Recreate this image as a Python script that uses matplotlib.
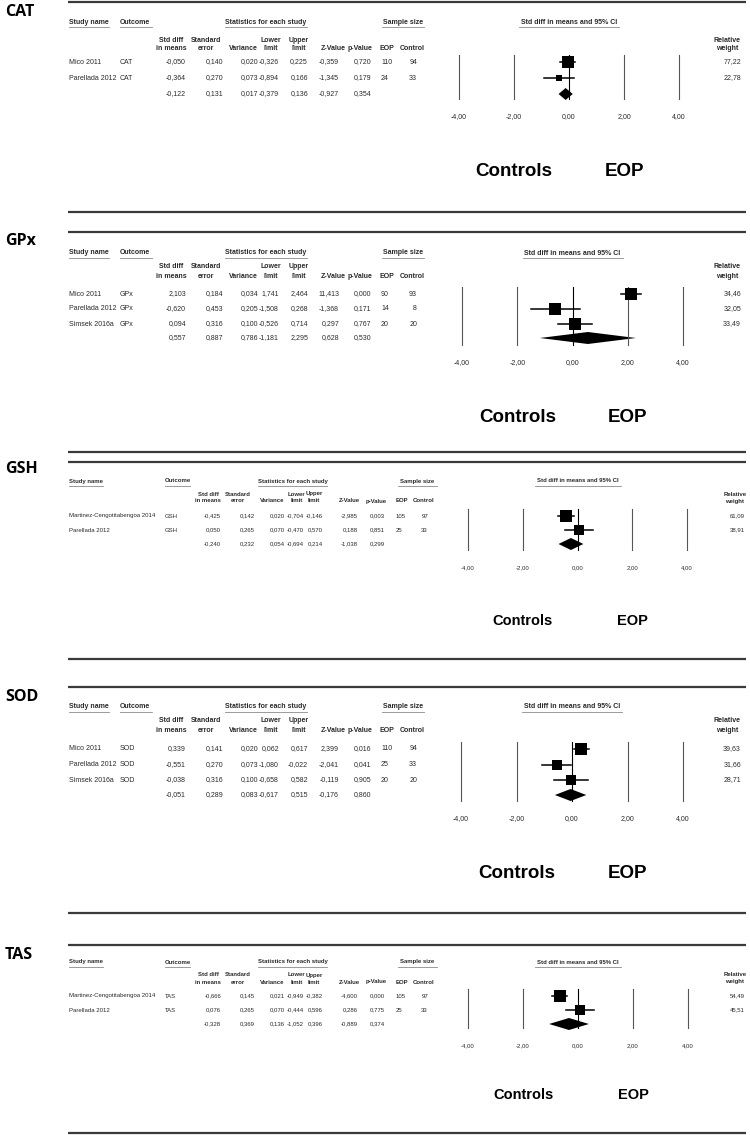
import numpy as np
import matplotlib
matplotlib.use("Agg")
import matplotlib.pyplot as plt

# ---------------- data ----------------
CAT_studies = ["Mico 2011", "Parellada 2012"]
CAT_smd = [-0.050, -0.364]
CAT_se = [0.140, 0.270]
CAT_var = [0.020, 0.073]
CAT_lo = [-0.326, -0.894]
CAT_hi = [0.225, 0.166]
CAT_z = [-0.359, -1.345]
CAT_p = [0.720, 0.179]
CAT_eop = [110, 24]
CAT_ctrl = [94, 33]
CAT_w = [77.22, 22.78]
CAT_pooled = [-0.122, 0.131, 0.017, -0.379, 0.136, -0.927, 0.354]

GPX_studies = ["Mico 2011", "Parellada 2012", "Simsek 2016a"]
GPX_smd = [2.103, -0.620, 0.094]
GPX_se = [0.184, 0.453, 0.316]
GPX_var = [0.034, 0.205, 0.100]
GPX_lo = [1.741, -1.508, -0.526]
GPX_hi = [2.464, 0.268, 0.714]
GPX_z = [11.413, -1.368, 0.297]
GPX_p = [0.000, 0.171, 0.767]
GPX_eop = [90, 14, 20]
GPX_ctrl = [93, 8, 20]
GPX_w = [34.46, 32.05, 33.49]
GPX_pooled = [0.557, 0.887, 0.786, -1.181, 2.295, 0.628, 0.530]

GSH_studies = ["Martinez-Cengotitabengoa 2014", "Parellada 2012"]
GSH_smd = [-0.425, 0.050]
GSH_se = [0.142, 0.265]
GSH_var = [0.020, 0.070]
GSH_lo = [-0.704, -0.470]
GSH_hi = [-0.146, 0.570]
GSH_z = [-2.985, 0.188]
GSH_p = [0.003, 0.851]
GSH_eop = [105, 25]
GSH_ctrl = [97, 33]
GSH_w = [61.09, 38.91]
GSH_pooled = [-0.240, 0.232, 0.054, -0.694, 0.214, -1.038, 0.299]

SOD_studies = ["Mico 2011", "Parellada 2012", "Simsek 2016a"]
SOD_smd = [0.339, -0.551, -0.038]
SOD_se = [0.141, 0.270, 0.316]
SOD_var = [0.020, 0.073, 0.100]
SOD_lo = [0.062, -1.080, -0.658]
SOD_hi = [0.617, -0.022, 0.582]
SOD_z = [2.399, -2.041, -0.119]
SOD_p = [0.016, 0.041, 0.905]
SOD_eop = [110, 25, 20]
SOD_ctrl = [94, 33, 20]
SOD_w = [39.63, 31.66, 28.71]
SOD_pooled = [-0.051, 0.289, 0.083, -0.617, 0.515, -0.176, 0.860]

TAS_studies = ["Martinez-Cengotitabengoa 2014", "Parellada 2012"]
TAS_smd = [-0.666, 0.076]
TAS_se = [0.145, 0.265]
TAS_var = [0.021, 0.070]
TAS_lo = [-0.949, -0.444]
TAS_hi = [-0.382, 0.596]
TAS_z = [-4.600, 0.286]
TAS_p = [0.000, 0.775]
TAS_eop = [105, 25]
TAS_ctrl = [97, 33]
TAS_w = [54.49, 45.51]
TAS_pooled = [-0.328, 0.369, 0.136, -1.052, 0.396, -0.889, 0.374]

xticks = [-4, -2, 0, 2, 4]
xtick_labels = ["-4,00", "-2,00", "0,00", "2,00", "4,00"]
side_labels = ["Controls", "EOP"]
side_pos = [-2, 2]

# ---------------- layout ----------------
W, H = 750, 1135
fig = plt.figure(figsize=(W / 100, H / 100), dpi=100)
bg = fig.add_axes([0, 0, 1, 1])
bg.set_xlim(0, W)
bg.set_ylim(H, 0)
bg.axis("off")

TXT = "#2a2a2a"
LINE = "#8a8a8a"

STYLE_A = dict(fs=5.0, study=69, outcome=120,
               vals=[186, 223, 258, 279, 308, 339, 371], eop=381, ctrl=417,
               hcent=[171, 206, 243, 271, 299, 333, 360], heop=387, hctrl=412,
               wright=741, wcent=727,
               ul_study=(69, 109), ul_out=(120, 152), ul_stat=(225, 307),
               ul_samp=(382, 424), ci_halfw=50, ctrl_fs=13.5)
STYLE_B = dict(fs=4.3, study=69, outcome=165,
               vals=[221, 255, 285, 304, 323, 358, 385], eop=396, ctrl=428,
               hcent=[208, 238, 272, 297, 314, 349, 376], heop=402, hctrl=424,
               wright=745, wcent=735,
               ul_study=(69, 103), ul_out=(165, 190), ul_stat=(258, 327),
               ul_samp=(398, 437), ci_halfw=43, ctrl_fs=10.5)

panels = [
    dict(name="CAT", st=STYLE_A, top=2, bot=212, lab=12, h1=22, h2a=41, h2b=49,
         rows=[62, 78], pool=94, vl=(55, 99), tick=117, side=171, fx=(459, 679),
         data=(CAT_studies, CAT_smd, CAT_se, CAT_var, CAT_lo, CAT_hi, CAT_z, CAT_p,
               CAT_eop, CAT_ctrl, CAT_w, CAT_pooled)),
    dict(name="GPx", st=STYLE_A, top=232, bot=452, lab=241, h1=253, h2a=267, h2b=276,
         rows=[294, 309, 324], pool=338, vl=(287, 345), tick=363, side=417, fx=(462, 683),
         data=(GPX_studies, GPX_smd, GPX_se, GPX_var, GPX_lo, GPX_hi, GPX_z, GPX_p,
               GPX_eop, GPX_ctrl, GPX_w, GPX_pooled)),
    dict(name="GSH", st=STYLE_B, top=462, bot=659, lab=469, h1=481, h2a=494, h2b=501,
         rows=[516, 530], pool=544, vl=(509, 550), tick=568, side=621, fx=(468, 687),
         data=(GSH_studies, GSH_smd, GSH_se, GSH_var, GSH_lo, GSH_hi, GSH_z, GSH_p,
               GSH_eop, GSH_ctrl, GSH_w, GSH_pooled)),
    dict(name="SOD", st=STYLE_A, top=687, bot=913, lab=697, h1=707, h2a=721, h2b=730,
         rows=[749, 765, 780], pool=795, vl=(742, 801), tick=819, side=874, fx=(461, 683),
         data=(SOD_studies, SOD_smd, SOD_se, SOD_var, SOD_lo, SOD_hi, SOD_z, SOD_p,
               SOD_eop, SOD_ctrl, SOD_w, SOD_pooled)),
    dict(name="TAS", st=STYLE_B, top=945, bot=1133, lab=955, h1=962, h2a=975, h2b=982,
         rows=[996, 1010], pool=1024, vl=(989, 1028), tick=1046, side=1095, fx=(468, 688),
         data=(TAS_studies, TAS_smd, TAS_se, TAS_var, TAS_lo, TAS_hi, TAS_z, TAS_p,
               TAS_eop, TAS_ctrl, TAS_w, TAS_pooled)),
]


def f3(v):
    return f"{v:.3f}".replace(".", ",")


def f2(v):
    return f"{v:.2f}".replace(".", ",")


SANS = ["Liberation Sans", "DejaVu Sans"]

for pn in panels:
    st = pn["st"]
    fs = st["fs"]
    studies, smd, se, var, lo, hi, z, p, eop, ctrl, w, pooled = pn["data"]

    # separator lines
    for yy in (pn["top"], pn["bot"]):
        bg.plot([68, 746], [yy, yy], color="#3a3a3a", lw=1.6, solid_capstyle="butt")

    # panel label
    bg.text(5, pn["lab"], pn["name"], fontsize=11.5, fontweight="bold",
            family=["Open Sans", "DejaVu Sans"], va="center", ha="left", color="black")

    # header row 1
    hk = dict(fontsize=fs, fontweight="bold", family=SANS, color=TXT, va="center")
    bg.text(st["ul_study"][0], pn["h1"], "Study name", ha="left", **hk)
    bg.text(st["ul_out"][0], pn["h1"], "Outcome", ha="left", **hk)
    bg.text(sum(st["ul_stat"]) / 2, pn["h1"], "Statistics for each study", ha="center", **hk)
    bg.text(sum(st["ul_samp"]) / 2, pn["h1"], "Sample size", ha="center", **hk)
    for (a, b) in (st["ul_study"], st["ul_out"], st["ul_stat"], st["ul_samp"]):
        bg.plot([a, b], [pn["h1"] + 5, pn["h1"] + 5], color=LINE, lw=0.6)

    # header row 2
    hc = st["hcent"]
    bg.text(hc[0], pn["h2a"], "Std diff", ha="center", **hk)
    bg.text(hc[0], pn["h2b"], "in means", ha="center", **hk)
    bg.text(hc[1], pn["h2a"], "Standard", ha="center", **hk)
    bg.text(hc[1], pn["h2b"], "error", ha="center", **hk)
    bg.text(hc[2], pn["h2b"], "Variance", ha="center", **hk)
    bg.text(hc[3], pn["h2a"], "Lower", ha="center", **hk)
    bg.text(hc[3], pn["h2b"], "limit", ha="center", **hk)
    bg.text(hc[4], pn["h2a"], "Upper", ha="center", **hk)
    bg.text(hc[4], pn["h2b"], "limit", ha="center", **hk)
    bg.text(hc[5], pn["h2b"], "Z-Value", ha="center", **hk)
    bg.text(hc[6], pn["h2b"], "p-Value", ha="center", **hk)
    bg.text(st["heop"], pn["h2b"], "EOP", ha="center", **hk)
    bg.text(st["hctrl"], pn["h2b"], "Control", ha="center", **hk)
    bg.text(st["wcent"], pn["h2a"], "Relative", ha="center", **hk)
    bg.text(st["wcent"], pn["h2b"], "weight", ha="center", **hk)

    # rows
    rk = dict(fontsize=fs, family=SANS, color=TXT, va="center")
    for i, yy in enumerate(pn["rows"]):
        bg.text(st["study"], yy, studies[i], ha="left", **rk)
        bg.text(st["outcome"], yy, pn["name"], ha="left", **rk)
        for xv, v in zip(st["vals"], [smd[i], se[i], var[i], lo[i], hi[i], z[i], p[i]]):
            bg.text(xv, yy, f3(v), ha="right", **rk)
        bg.text(st["eop"], yy, str(eop[i]), ha="left", **rk)
        bg.text(st["ctrl"], yy, str(ctrl[i]), ha="right", **rk)
        bg.text(st["wright"], yy, f2(w[i]), ha="right", **rk)
    for xv, v in zip(st["vals"], pooled):
        bg.text(xv, pn["pool"], f3(v), ha="right", **rk)

    # forest axes: x in effect units, y in pixel rows of the panel
    x0, x1 = pn["fx"]
    ax = fig.add_axes([x0 / W, 1 - pn["bot"] / H, (x1 - x0) / W, (pn["bot"] - pn["top"]) / H])
    ax.set_xlim(-4, 4)
    ax.set_ylim(pn["bot"], pn["top"])
    ax.axis("off")

    ax.text(0, pn["h1"], "Std diff in means and 95% CI", ha="center", **hk)
    ax.plot([-st["ci_halfw"] / ((x1 - x0) / 8), st["ci_halfw"] / ((x1 - x0) / 8)],
            [pn["h1"] + 5, pn["h1"] + 5], color=LINE, lw=0.6, clip_on=False)

    for t in xticks:
        ax.plot([t, t], list(pn["vl"]), color="black" if t == 0 else "#555555",
                lw=0.8, clip_on=False)
    for t, lab in zip(xticks, xtick_labels):
        ax.text(t, pn["tick"], lab, ha="center", va="center", fontsize=fs,
                family=SANS, color=TXT)

    wmax = max(w)
    for i, yy in enumerate(pn["rows"]):
        ax.plot([lo[i], hi[i]], [yy, yy], color="black", lw=1.1, clip_on=False)
        size_px = 11.5 * np.sqrt(w[i] / wmax)
        ax.plot(smd[i], yy, marker="s", ms=size_px * 0.72, color="black",
                mec="black", mew=0, clip_on=False)
    est, plo, phi = pooled[0], pooled[3], pooled[4]
    yp = pn["pool"]
    ax.fill([plo, est, phi, est], [yp, yp - 6, yp, yp + 6], color="black",
            lw=0, clip_on=False)

    for lab, xs in zip(side_labels, side_pos):
        ax.text(xs, pn["side"], lab, ha="center", va="center", fontsize=st["ctrl_fs"],
                fontweight="bold", family=SANS, color="black")

fig.savefig("out.png", dpi=100)
